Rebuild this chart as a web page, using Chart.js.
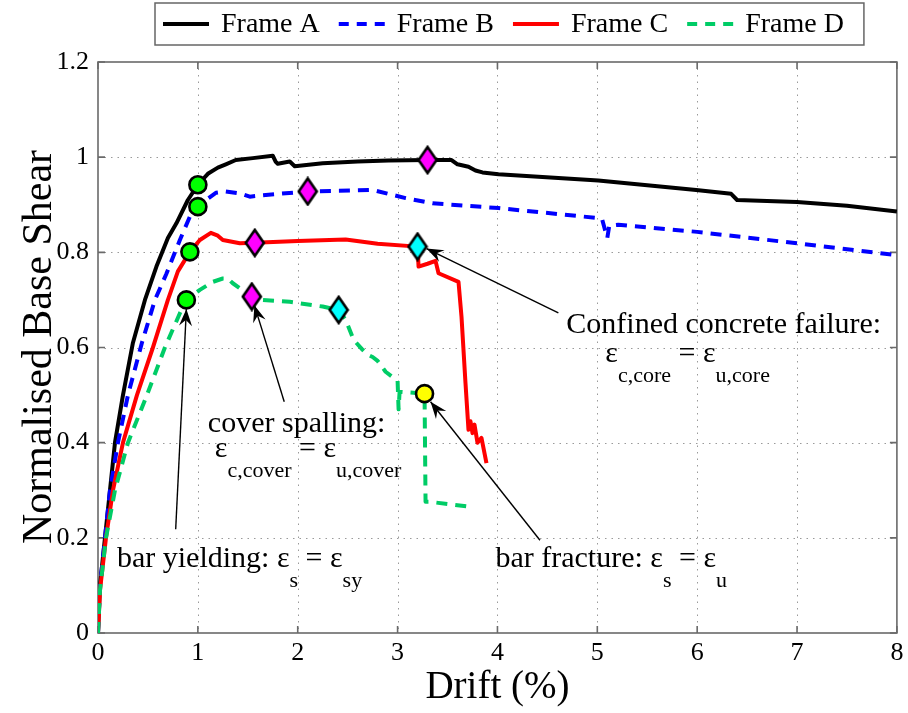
<!DOCTYPE html>
<html><head><meta charset="utf-8">
<script src="https://cdn.jsdelivr.net/npm/chart.js@4.4.1/dist/chart.umd.min.js"></script>
<style>html,body{margin:0;padding:0;background:#fff}#wrap{width:908px;height:713px}</style>
</head><body><div id="wrap"><canvas id="c" width="908" height="713"></canvas></div>
<script>
// ---------- data ----------
const xTicks = [0,1,2,3,4,5,6,7,8];
const yTicks = [0,0.2,0.4,0.6,0.8,1,1.2];
const seriesNames = ['Frame A','Frame B','Frame C','Frame D'];
const seriesColors = ['#000000','#0000ff','#ff0000','#00cc66'];

const frameA = [[0,0],[0.02,0.10],[0.07,0.20],[0.12,0.30],[0.17,0.40],[0.25,0.50],[0.35,0.61],[0.47,0.70],
 [0.585,0.77],[0.70,0.83],[0.785,0.861],[0.90,0.91],[1.00,0.942],[1.10,0.965],[1.20,0.978],[1.28,0.985],
 [1.38,0.994],[1.55,0.998],[1.75,1.003],[1.78,0.99],[1.80,0.986],[1.92,0.991],[1.97,0.981],[2.25,0.987],
 [2.6,0.991],[2.91,0.993],[3.30,0.994],[3.54,0.994],[3.60,0.985],[3.71,0.98],[3.78,0.972],[3.85,0.968],
 [4.01,0.964],[5.01,0.951],[5.99,0.931],[6.34,0.923],[6.40,0.910],[7.0,0.906],[7.5,0.898],[8.0,0.886]];
const frameB = [[0,0],[0.02,0.10],[0.07,0.20],[0.12,0.30],[0.20,0.40],[0.30,0.50],[0.44,0.61],[0.57,0.70],
 [0.685,0.755],[0.82,0.826],[0.92,0.875],[1.00,0.896],[1.08,0.91],[1.18,0.925],[1.28,0.928],[1.42,0.924],
 [1.52,0.917],[1.65,0.92],[2.10,0.928],[2.75,0.931],[3.08,0.914],[3.35,0.903],[4.01,0.893],[5.01,0.872],
 [5.05,0.868],[5.10,0.830],[5.12,0.856],[5.21,0.858],[6.0,0.843],[7.0,0.819],[8.0,0.794]];
const frameC = [[0,0],[0.02,0.09],[0.08,0.20],[0.15,0.30],[0.25,0.40],[0.39,0.50],[0.55,0.60],[0.70,0.70],
 [0.80,0.76],[0.92,0.801],[1.02,0.826],[1.13,0.841],[1.20,0.835],[1.25,0.826],[1.42,0.819],[1.57,0.820],
 [2.0,0.824],[2.48,0.827],[2.8,0.818],[3.20,0.812],[3.21,0.770],[3.30,0.776],[3.38,0.782],[3.41,0.756],
 [3.61,0.738],[3.64,0.665],[3.68,0.525],[3.71,0.427],[3.73,0.445],[3.75,0.42],[3.77,0.438],[3.80,0.40],
 [3.84,0.41],[3.89,0.357]];
const frameD = [[0,0],[0.02,0.09],[0.08,0.20],[0.17,0.30],[0.30,0.40],[0.49,0.50],[0.67,0.60],[0.82,0.672],
 [0.885,0.70],[1.02,0.721],[1.15,0.738],[1.25,0.745],[1.30,0.745],[1.35,0.735],[1.52,0.710],[1.54,0.707],
 [1.65,0.70],[1.92,0.696],[2.25,0.686],[2.41,0.679],[2.48,0.658],[2.56,0.616],[2.65,0.595],[2.70,0.585],
 [2.75,0.580],[2.80,0.572],[2.88,0.549],[3.00,0.530],[3.01,0.47],[3.02,0.507],[3.27,0.503],[3.28,0.276],
 [3.31,0.276],[3.74,0.265]];

// limit-state markers
const yieldPts = [[1.0,0.942],[1.0,0.896],[0.92,0.801],[0.885,0.70]];
const spallPts = [[3.30,0.994],[2.10,0.928],[1.57,0.820],[1.54,0.707]];
const corePts = [[3.20,0.812],[2.41,0.679]];
const fracturePts = [[3.27,0.503]];

// annotation texts (parts: [text, kind]) with anchor in data units
const noteTexts = [
  [['Confined concrete failure:','m']],
  [['ε','m'],['c,core','s'],[' = ε','m'],['u,core','s']],
  [['cover spalling:','m']],
  [['ε','m'],['c,cover','s'],[' = ε','m'],['u,cover','s']],
  [['bar yielding: ε','m'],['s','s'],[' = ε','m'],['sy','s']],
  [['bar fracture: ε','m'],['s','s'],[' = ε','m'],['u','s']]
];
const noteAnchors = [[4.69,0.6305],[5.08,0.5696],[1.10,0.423],[1.17,0.3705],[0.19,0.139],[3.98,0.139]];
// arrows: [tailX, tailY, headX, headY] in data units
const arrowsData = [[0.778,0.218,0.885,0.681],[1.865,0.486,1.566,0.689],[4.61,0.673,3.29,0.808],[4.426,0.195,3.33,0.486]];

// ---------- helpers ----------
const FONT = '"Liberation Serif","Times New Roman",serif';
const toXY = a => a.map(p => ({x:p[0], y:p[1]}));

function diamond(fill){
  const c = document.createElement('canvas'); c.width = 22; c.height = 30;
  const g = c.getContext('2d');
  g.beginPath(); g.moveTo(11,2); g.lineTo(20,15); g.lineTo(11,28); g.lineTo(2,15); g.closePath();
  g.fillStyle = fill; g.fill(); g.lineWidth = 2.6; g.strokeStyle = '#000'; g.lineJoin = 'miter'; g.stroke();
  return c;
}
const magDiamond = diamond('#ff00ff'), cyanDiamond = diamond('#00ffff');

const markerData = [], markerStyle = [], markerFill = [];
yieldPts.forEach(p => { markerData.push({x:p[0],y:p[1]}); markerStyle.push('circle'); markerFill.push('#00ff00'); });
spallPts.forEach(p => { markerData.push({x:p[0],y:p[1]}); markerStyle.push(magDiamond); markerFill.push('#ff00ff'); });
corePts.forEach(p => { markerData.push({x:p[0],y:p[1]}); markerStyle.push(cyanDiamond); markerFill.push('#00ffff'); });
fracturePts.forEach(p => { markerData.push({x:p[0],y:p[1]}); markerStyle.push('circle'); markerFill.push('#ffff00'); });

const seriesData = [frameA, frameB, frameC, frameD];
const dashes = [[], [11,8], [], [11,8]];

const datasets = seriesData.map((d,i) => ({
  label: seriesNames[i], data: toXY(d), borderColor: seriesColors[i], backgroundColor: seriesColors[i],
  borderWidth: 4, borderDash: dashes[i], pointRadius: 0, fill: false, tension: 0, order: 4 - i,
  borderCapStyle: 'butt', borderJoinStyle: 'round'
}));
datasets.push({label:'markers', data: markerData, showLine:false, pointStyle: markerStyle, pointRadius: 8.5,
  pointBackgroundColor: markerFill, pointBorderColor:'#000', pointBorderWidth: 2.6, order: 0});

function arrow(ctx,x1,y1,x2,y2){
  ctx.save();
  ctx.strokeStyle='#000'; ctx.fillStyle='#000'; ctx.lineWidth=1.4; ctx.setLineDash([]);
  ctx.beginPath(); ctx.moveTo(x1,y1); ctx.lineTo(x2,y2); ctx.stroke();
  const ang=Math.atan2(y2-y1,x2-x1), L=17, W=6.5;
  const c=Math.cos(ang), s=Math.sin(ang);
  const bx=x2-L*c, by=y2-L*s, mx=x2-L*0.65*c, my=y2-L*0.65*s;
  ctx.beginPath(); ctx.moveTo(x2,y2); ctx.lineTo(bx-s*W,by+c*W); ctx.lineTo(mx,my); ctx.lineTo(bx+s*W,by-c*W); ctx.closePath(); ctx.fill();
  ctx.restore();
}

function richText(ctx, parts, x, y){
  let cx = x;
  parts.forEach(([t,k]) => {
    if (k==='m'){ ctx.font = '30px '+FONT; ctx.fillText(t, cx, y); }
    else { ctx.font = '22px '+FONT; ctx.fillText(t, cx, y+20); }
    cx += ctx.measureText(t).width;
  });
}

const decor = {
  id:'decor',
  beforeDatasetsDraw(chart){
    const {ctx, chartArea:a, scales:{x,y}} = chart;
    ctx.save();
    ctx.strokeStyle='#9a9a9a'; ctx.lineWidth=1; ctx.setLineDash([1.5,5]);
    xTicks.slice(1,-1).forEach(v => { const p=Math.round(x.getPixelForValue(v))+0.5;
      ctx.beginPath(); ctx.moveTo(p,a.top); ctx.lineTo(p,a.bottom); ctx.stroke(); });
    yTicks.slice(1,-1).forEach(v => { const p=Math.round(y.getPixelForValue(v))+0.5;
      ctx.beginPath(); ctx.moveTo(a.left,p); ctx.lineTo(a.right,p); ctx.stroke(); });
    ctx.setLineDash([]);
    ctx.strokeStyle='#6a6a6a'; ctx.lineWidth=1.6;
    ctx.strokeRect(a.left, a.top, a.right-a.left, a.bottom-a.top);
    const tl=7;
    xTicks.forEach(v => { const p=x.getPixelForValue(v);
      ctx.beginPath(); ctx.moveTo(p,a.bottom); ctx.lineTo(p,a.bottom-tl); ctx.moveTo(p,a.top); ctx.lineTo(p,a.top+tl); ctx.stroke(); });
    yTicks.forEach(v => { const p=y.getPixelForValue(v);
      ctx.beginPath(); ctx.moveTo(a.left,p); ctx.lineTo(a.left+tl,p); ctx.moveTo(a.right,p); ctx.lineTo(a.right-tl,p); ctx.stroke(); });
    ctx.restore();
  },
  afterDraw(chart){
    const {ctx, chartArea:a, scales:{x,y}} = chart;
    ctx.save();
    // arrows
    arrowsData.forEach(d => arrow(ctx, x.getPixelForValue(d[0]), y.getPixelForValue(d[1]), x.getPixelForValue(d[2]), y.getPixelForValue(d[3])));
    // annotation texts
    ctx.fillStyle='#000'; ctx.textBaseline='alphabetic'; ctx.textAlign='left';
    noteTexts.forEach((parts,i) => richText(ctx, parts, x.getPixelForValue(noteAnchors[i][0]), y.getPixelForValue(noteAnchors[i][1])));
    // axis titles
    ctx.textAlign='center'; ctx.textBaseline='middle';
    ctx.font='39px '+FONT; ctx.fillText('Drift (%)', (a.left+a.right)/2, 688);
    ctx.save(); ctx.translate(40, 347); ctx.rotate(-Math.PI/2);
    ctx.font='42px '+FONT; ctx.fillText('Normalised Base Shear', 0, 0); ctx.restore();
    // legend
    ctx.font='28px '+FONT; ctx.textAlign='left'; ctx.textBaseline='middle';
    const ly=24, lineLen=46, gapLT=12, gapTL=19;
    const boxL=155;
    let cx=163;
    let lastEnd=cx;
    seriesNames.forEach((n,i) => {
      ctx.save(); ctx.strokeStyle=seriesColors[i]; ctx.lineWidth=4; ctx.setLineDash(dashes[i].length? [10,8]:[]);
      ctx.beginPath(); ctx.moveTo(cx,ly); ctx.lineTo(cx+lineLen,ly); ctx.stroke(); ctx.restore();
      cx += lineLen + gapLT;
      ctx.fillStyle='#000'; ctx.fillText(n, cx, ly+1);
      lastEnd = cx + ctx.measureText(n).width;
      cx = lastEnd + gapTL;
    });
    ctx.strokeStyle='#666'; ctx.lineWidth=1.5; ctx.setLineDash([]);
    ctx.strokeRect(boxL, 3, lastEnd + 20 - boxL, 42);
    ctx.restore();
  }
};

new Chart(document.getElementById('c'), {
  type:'line',
  data:{datasets},
  options:{
    responsive:false, animation:false, devicePixelRatio:1,
    layout:{padding:{left:0, top:62, right:5, bottom:0}},
    plugins:{legend:{display:false}, tooltip:{enabled:false}},
    scales:{
      x:{type:'linear', min:0, max:8, afterFit:s=>{s.height=80; s.paddingLeft=0; s.paddingRight=0;},
         afterBuildTicks:s=>{s.ticks=xTicks.map(v=>({value:v}));},
         grid:{display:false, drawTicks:false}, border:{display:false},
         ticks:{font:{family:FONT,size:26}, color:'#000', padding:5, maxRotation:0, callback:v=>String(v)}},
      y:{type:'linear', min:0, max:1.2, afterFit:s=>{s.width=98; s.paddingTop=0; s.paddingBottom=0;},
         afterBuildTicks:s=>{s.ticks=yTicks.map(v=>({value:v}));},
         grid:{display:false, drawTicks:false}, border:{display:false},
         ticks:{font:{family:FONT,size:26}, color:'#000', padding:9, callback:v=>String(Math.round(v*10)/10)}}
    }
  },
  plugins:[decor]
});
</script></body></html>
